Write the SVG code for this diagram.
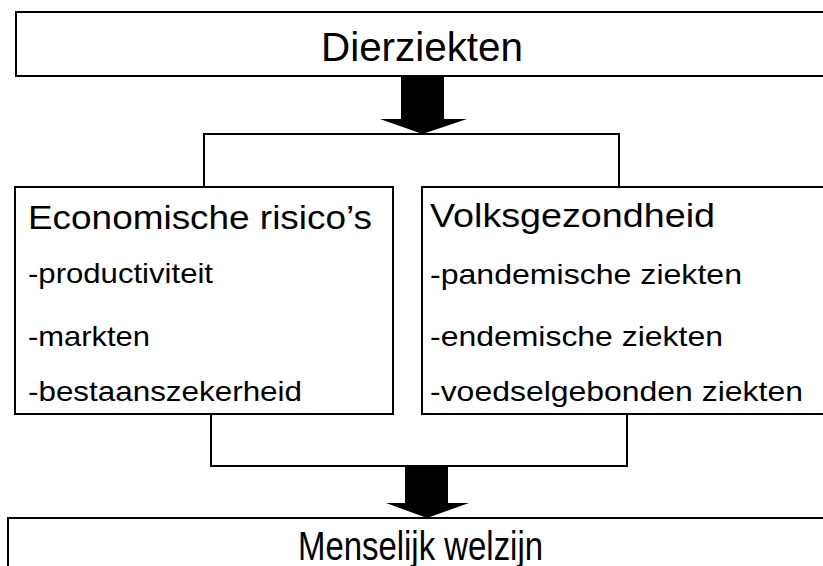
<svg xmlns="http://www.w3.org/2000/svg" width="823" height="566" viewBox="0 0 823 566">
<style>
.box{fill:#fff;stroke:#000;stroke-width:2}
.conn{fill:none;stroke:#000;stroke-width:2}
.arrow{fill:#000;stroke:none}
.title{font-family:"Liberation Sans",Arial,sans-serif;font-size:41px;fill:#000}
.head{font-family:"Liberation Sans",Arial,sans-serif;font-size:34px;fill:#000}
.item{font-family:"Liberation Sans",Arial,sans-serif;font-size:28px;fill:#000}
</style>
<rect width="823" height="566" fill="#fff"/>
<g id="connectors">
<path class="conn" d="M204,187 V134 H619 V187"/>
<path class="conn" d="M211,414 V466 H627 V414"/>
<polygon class="arrow" points="401,76 444,76 444,119 467,119 422.5,134 380,119 401,119"/>
<polygon class="arrow" points="405,466 448,466 448,503 469,503 427,518 386,503 405,503"/>
</g>
<g id="dierziekten">
<rect class="box" x="16" y="12" width="820" height="64"/>
<text class="title" x="321" y="61" textLength="202" lengthAdjust="spacingAndGlyphs">Dierziekten</text>
</g>
<g id="economische">
<rect class="box" x="15" y="187" width="378" height="227"/>
<text class="head" x="28" y="229" textLength="344" lengthAdjust="spacingAndGlyphs">Economische risico’s</text>
<text class="item" x="28" y="283" textLength="185" lengthAdjust="spacingAndGlyphs">-productiviteit</text>
<text class="item" x="28" y="346" textLength="122" lengthAdjust="spacingAndGlyphs">-markten</text>
<text class="item" x="28" y="401" textLength="274" lengthAdjust="spacingAndGlyphs">-bestaanszekerheid</text>
</g>
<g id="volksgezondheid">
<rect class="box" x="422" y="187" width="414" height="227"/>
<text class="head" x="430" y="227" textLength="285" lengthAdjust="spacingAndGlyphs">Volksgezondheid</text>
<text class="item" x="430" y="284" textLength="312" lengthAdjust="spacingAndGlyphs">-pandemische ziekten</text>
<text class="item" x="430" y="346" textLength="293" lengthAdjust="spacingAndGlyphs">-endemische ziekten</text>
<text class="item" x="430" y="401" textLength="373" lengthAdjust="spacingAndGlyphs">-voedselgebonden ziekten</text>
</g>
<g id="welzijn">
<rect class="box" x="8" y="518" width="828" height="60"/>
<text class="title" x="298" y="560" textLength="245" lengthAdjust="spacingAndGlyphs">Menselijk welzijn</text>
</g>
</svg>
